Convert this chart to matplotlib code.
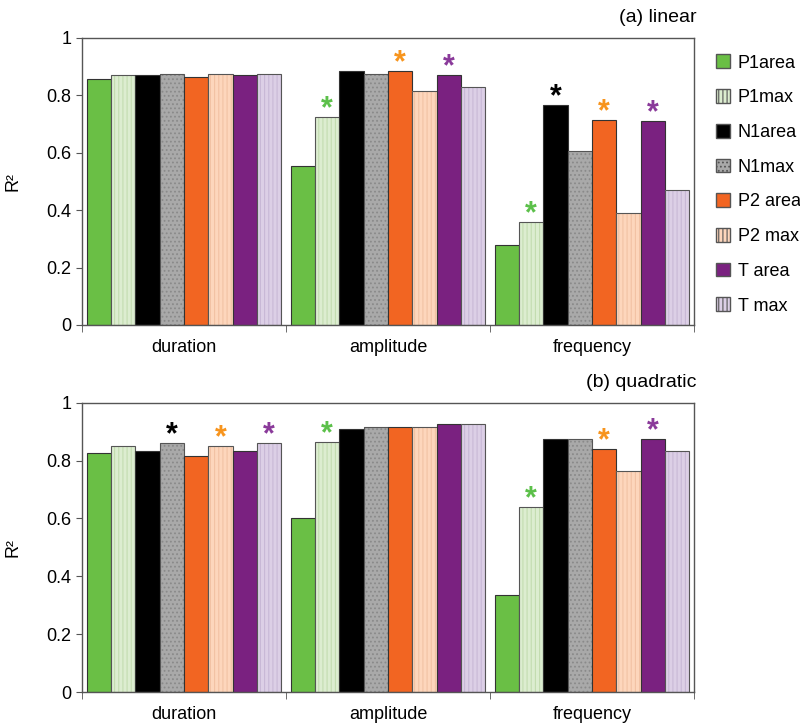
import matplotlib
matplotlib.use("Agg")
import matplotlib.pyplot as plt
import numpy as np
from matplotlib.patches import Patch
from matplotlib.ticker import FuncFormatter, FixedLocator

plt.rcParams["font.family"] = ["Liberation Sans", "DejaVu Sans"]
plt.rcParams["hatch.linewidth"] = 0.8

groups = ["duration", "amplitude", "frequency"]
series = ["P1area", "P1max", "N1area", "N1max", "P2 area", "P2 max", "T area", "T max"]

linear = {
    "duration":  [0.855, 0.870, 0.870, 0.875, 0.865, 0.875, 0.870, 0.875],
    "amplitude": [0.555, 0.725, 0.885, 0.875, 0.885, 0.815, 0.870, 0.830],
    "frequency": [0.280, 0.360, 0.765, 0.605, 0.715, 0.390, 0.710, 0.470],
}
quadratic = {
    "duration":  [0.825, 0.850, 0.835, 0.860, 0.815, 0.850, 0.835, 0.860],
    "amplitude": [0.600, 0.865, 0.910, 0.915, 0.915, 0.915, 0.925, 0.925],
    "frequency": [0.335, 0.640, 0.875, 0.875, 0.840, 0.765, 0.875, 0.835],
}
# significance stars: (group, series index)
linear_stars = [("amplitude", 1), ("amplitude", 4), ("amplitude", 6),
                ("frequency", 1), ("frequency", 2), ("frequency", 4), ("frequency", 6)]
quad_stars = [("duration", 3), ("duration", 5), ("duration", 7),
              ("amplitude", 1),
              ("frequency", 1), ("frequency", 4), ("frequency", 6)]

fills = ["#6abf45", "#dcedd0", "#000000", "#a9a9a9",
         "#f26522", "#fdd6bc", "#7a2180", "#dccfe6"]
hatch_col = [None, "#c3dcb0", None, "#8a8a8a", None, "#f2c2a4", None, "#c8b8d6"]
hatches = [None, "||||", None, "....", None, "||||", None, "||||"]
star_col = ["#5cc04a", "#5cc04a", "#000000", "#000000",
             "#f7941d", "#f7941d", "#8a3a9a", "#8a3a9a"]

W = 0.119
x = np.arange(len(groups))
offsets = (np.arange(len(series)) - 3.5) * W

fig = plt.figure(figsize=(8.0, 7.27), dpi=100)
ax1 = fig.add_axes([0.1025, 0.553, 0.765, 0.395])
ax2 = fig.add_axes([0.1025, 0.048, 0.765, 0.398])


def draw(ax, data, stars, title):
    for i in range(len(series)):
        vals = [data[g][i] for g in groups]
        if hatches[i]:
            ax.bar(x + offsets[i], vals, W, color=fills[i], hatch=hatches[i],
                   edgecolor=hatch_col[i], linewidth=0)
            ax.bar(x + offsets[i], vals, W, facecolor="none",
                   edgecolor="#555555", linewidth=0.8)
        else:
            ax.bar(x + offsets[i], vals, W, color=fills[i],
                   edgecolor="#333333", linewidth=0.8)
    for g, i in stars:
        gi = groups.index(g)
        ax.text(gi + offsets[i], data[g][i] - 0.025, "*", ha="center",
                va="bottom", fontsize=22, color=star_col[i],
                fontweight="bold")
    ax.set_xlim(-0.5, 2.5)
    ax.set_ylim(0, 1)
    ax.set_yticks(np.arange(0, 1.01, 0.2))
    ax.yaxis.set_major_formatter(FuncFormatter(
        lambda v, p: "%d" % round(v) if abs(v - round(v)) < 1e-6 else "%.1f" % v))
    ax.set_xticks(x)
    ax.set_xticklabels(groups, fontsize=13)
    ax.xaxis.set_minor_locator(FixedLocator([-0.5, 0.5, 1.5, 2.5]))
    ax.tick_params(axis="x", which="major", length=0, pad=10)
    ax.tick_params(axis="x", which="minor", length=5, color="#555555")
    ax.tick_params(axis="y", labelsize=13, length=4, color="#555555")
    for s in ax.spines.values():
        s.set_color("#555555")
        s.set_linewidth(1.0)
    ax.set_ylabel("R²", fontsize=13, labelpad=18)
    ax.text(1.004, 1.04, title, transform=ax.transAxes, ha="right",
            va="bottom", fontsize=14)


draw(ax1, linear, linear_stars, "(a) linear")
draw(ax2, quadratic, quad_stars, "(b) quadratic")

handles = []
for i, s in enumerate(series):
    handles.append(Patch(facecolor=fills[i], edgecolor="#555555",
                         hatch=hatches[i], label=s))
fig.legend(handles=handles, loc="upper left", bbox_to_anchor=(0.886, 0.935),
           frameon=False, fontsize=13, handlelength=0.8, handleheight=0.8,
           handletextpad=0.4, labelspacing=0.97, borderaxespad=0)

fig.savefig("out.png", dpi=100)
